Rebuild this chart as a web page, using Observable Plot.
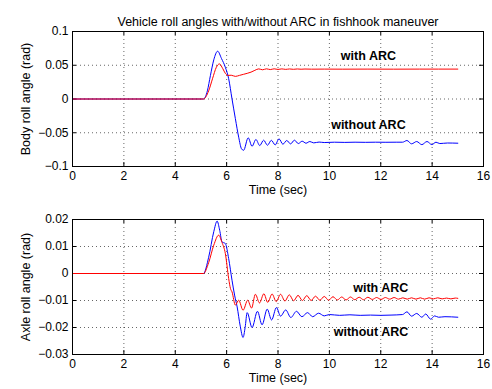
<!DOCTYPE html>
<html><head><meta charset="utf-8">
<script src="https://cdn.jsdelivr.net/npm/d3@7"></script>
<script src="https://cdn.jsdelivr.net/npm/@observablehq/plot@0.6"></script>
<style>
body{margin:0;background:#fff;}
#wrap{position:relative;width:492px;height:389px;font-family:"Liberation Sans",Arial,sans-serif;}
#top,#bot{position:absolute;left:0;}
#top{top:0;}
#bot{top:205px;}
</style></head><body>
<div id="wrap"><div id="top"></div><div id="bot"></div></div>
<script>
// ---- data (time in sec, angle in rad) ----
const xTicks = [0, 2, 4, 6, 8, 10, 12, 14, 16];
const bodyTicks = [-0.1, -0.05, 0, 0.05, 0.1];
const axleTicks = [-0.03, -0.02, -0.01, 0, 0.01, 0.02];

const bodyNoArc = [[0,0],[5.1,0],[5.25,0.012],[5.37,0.035],[5.5,0.058],[5.65,0.0708],[5.8,0.060],[5.95,0.047],[6.08,0.030],[6.21,0],[6.34,-0.029],[6.47,-0.0566],[6.58,-0.0738],[6.66,-0.076],[6.84,-0.0575],[6.99,-0.0700],[7.14,-0.0600],[7.29,-0.0690],[7.44,-0.0610],[7.59,-0.0685],[7.74,-0.0612],[7.89,-0.0680],[8.04,-0.0590],[8.19,-0.0670],[8.34,-0.0615],[8.49,-0.0665],[8.64,-0.0610],[8.79,-0.0660],[8.94,-0.0625],[9.09,-0.0655],[9.24,-0.0630],[9.39,-0.0650],[9.6,-0.0638],[9.8,-0.0645],[10.2,-0.0640],[10.6,-0.0643],[11.0,-0.0640],[11.4,-0.0642],[11.8,-0.0640],[12.2,-0.0641],[12.6,-0.0640],[12.85,-0.0640],[13.02,-0.0615],[13.2,-0.0664],[13.4,-0.0630],[13.6,-0.0676],[13.8,-0.0630],[13.99,-0.0676],[14.15,-0.0640],[14.3,-0.0660],[14.6,-0.0652],[15.0,-0.0655]];

const bodyArc = [[0,0],[5.1,0],[5.3,0.012],[5.45,0.030],[5.6,0.047],[5.72,0.052],[5.85,0.045],[5.95,0.038],[6.05,0.0350],[6.18,0.0352],[6.34,0.0335],[6.5,0.0350],[6.65,0.0365],[6.8,0.0380],[6.95,0.0398],[7.1,0.0425],[7.25,0.0446],[7.4,0.0433],[7.55,0.0447],[7.7,0.0436],[7.85,0.0447],[8.0,0.0438],[8.15,0.0446],[8.3,0.0439],[8.45,0.0445],[8.6,0.0440],[8.75,0.0445],[8.9,0.0441],[9.05,0.0444],[9.3,0.0442],[9.8,0.0443],[10.5,0.0442],[11.5,0.0443],[12.5,0.0442],[13.5,0.0443],[15.0,0.0443]];

const axleNoArc = [[0,0],[5.1,0],[5.3,0.006],[5.5,0.0155],[5.63,0.0194],[5.73,0.016],[5.82,0.0117],[5.95,0.0111],[6.08,0.0055],[6.21,-0.0025],[6.31,-0.0080],[6.41,-0.0124],[6.53,-0.0195],[6.64,-0.0237],[6.72,-0.0200],[6.8,-0.0145],[6.99,-0.0200],[7.2,-0.0140],[7.38,-0.0190],[7.58,-0.0132],[7.75,-0.0172],[7.94,-0.0126],[8.1,-0.0158],[8.3,-0.0135],[8.5,-0.0163],[8.72,-0.0140],[8.93,-0.0160],[9.15,-0.0145],[9.35,-0.0160],[9.58,-0.0147],[9.8,-0.0157],[10.0,-0.0152],[10.4,-0.0155],[10.8,-0.0153],[11.2,-0.0155],[11.6,-0.0154],[12.0,-0.0155],[12.4,-0.0154],[12.85,-0.0152],[13.02,-0.0142],[13.2,-0.0158],[13.4,-0.0148],[13.6,-0.0162],[13.75,-0.0150],[13.94,-0.0169],[14.1,-0.0157],[14.25,-0.0162],[14.5,-0.0160],[15.0,-0.0162]];

const axleArc = [[0,0],[5.1,0],[5.3,0.004],[5.5,0.0105],[5.69,0.0142],[5.82,0.0115],[5.95,0.0074],[6.08,-0.0019],[6.15,-0.0056],[6.21,-0.0068],[6.34,-0.0117],[6.47,-0.0099],[6.64,-0.0136],[6.82,-0.0099],[6.97,-0.0128],[7.12,-0.0077],[7.28,-0.0109],[7.45,-0.0075],[7.6,-0.0107],[7.77,-0.0076],[7.93,-0.0104],[8.1,-0.0077],[8.27,-0.0102],[8.44,-0.0079],[8.61,-0.0101],[8.78,-0.0081],[8.95,-0.0100],[9.12,-0.0082],[9.29,-0.0100],[9.46,-0.0084],[9.63,-0.0099],[9.8,-0.0085],[9.97,-0.0099],[10.14,-0.0086],[10.31,-0.0098],[10.48,-0.0087],[10.65,-0.0098],[10.82,-0.0087],[10.99,-0.0097],[11.16,-0.0088],[11.33,-0.0097],[11.5,-0.0088],[11.67,-0.0096],[11.84,-0.0089],[12.01,-0.0096],[12.18,-0.0089],[12.35,-0.0095],[12.52,-0.0089],[12.69,-0.0095],[12.86,-0.0090],[13.03,-0.0095],[13.2,-0.0090],[13.37,-0.0095],[13.54,-0.0090],[13.71,-0.0095],[13.88,-0.0090],[14.05,-0.0094],[14.22,-0.0090],[14.39,-0.0094],[14.56,-0.0091],[14.73,-0.0094],[14.9,-0.0091],[15.0,-0.0092]];

const toRows = a => a.map(([t, v]) => ({t, v}));

function panel({noArc, arc, yDomain, yTicks, yLabel, height, marginTop, marginBottom, title, labels}) {
  const W = 492, mL = 72, mR = 9;
  const pw = W - mL - mR, ph = height - marginTop - marginBottom;
  const dotted = {stroke: "#000", strokeOpacity: 0.6, strokeDasharray: "1,3", strokeWidth: 1};
  const marks = [
    Plot.ruleX(xTicks.slice(1, -1), dotted),
    Plot.ruleY(yTicks.slice(1, -1), dotted),
    Plot.ruleX(xTicks, {stroke: "#000", insetBottom: ph - 4}),
    Plot.ruleX(xTicks, {stroke: "#000", insetTop: ph - 4}),
    Plot.ruleY(yTicks, {stroke: "#000", insetRight: pw - 4}),
    Plot.ruleY(yTicks, {stroke: "#000", insetLeft: pw - 4}),
    Plot.line(toRows(noArc), {x: "t", y: "v", stroke: "#0000ff", strokeWidth: 1, curve: "monotone-x"}),
    Plot.line(toRows(arc), {x: "t", y: "v", stroke: "#ff0000", strokeWidth: 1, curve: "monotone-x"}),
    Plot.frame({stroke: "#000", strokeWidth: 1}),
    Plot.axisX(xTicks, {tickSize: 0, tickPadding: 5, label: null, fontSize: 12}),
    Plot.axisY(yTicks, {tickSize: 0, tickPadding: 4, label: null, fontSize: 12, tickFormat: d => d === 0 ? "0" : d3.format("")(d).replace("-", "\u2212")}),
    Plot.text(["Time (sec)"], {frameAnchor: "bottom", dy: 27, text: d => d, fontSize: 12.5, fill: "#000"}),
    Plot.text([yLabel], {frameAnchor: "left", textAnchor: "middle", dx: -47, rotate: -90, text: d => d, fontSize: 12.5, fill: "#000"}),
    Plot.text(labels, {x: "x", y: "y", text: "text", fontWeight: "bold", fontSize: 12.5, fill: "#000"})
  ];
  if (title) marks.push(Plot.text([title], {frameAnchor: "top", dy: -14, text: d => d, fontSize: 12.5, fill: "#000"}));
  return Plot.plot({
    width: W, height, marginLeft: mL, marginRight: mR, marginTop, marginBottom,
    style: {fontFamily: "'Liberation Sans', Arial, sans-serif", fontSize: "12px", background: "white", color: "#000", overflow: "visible"},
    x: {domain: [0, 16], axis: null},
    y: {domain: yDomain, axis: null},
    marks
  });
}

document.getElementById("top").append(panel({
  noArc: bodyNoArc, arc: bodyArc, yDomain: [-0.1, 0.1], yTicks: bodyTicks,
  yLabel: "Body roll angle (rad)", height: 205, marginTop: 31, marginBottom: 39,
  title: "Vehicle roll angles with/without ARC in fishhook maneuver",
  labels: [{x: 11.52, y: 0.0644, text: "with ARC"}, {x: 11.52, y: -0.0378, text: "without ARC"}]
}));
document.getElementById("bot").append(panel({
  noArc: axleNoArc, arc: axleArc, yDomain: [-0.03, 0.02], yTicks: axleTicks,
  yLabel: "Axle roll angle (rad)", height: 184, marginTop: 14, marginBottom: 35,
  title: null,
  labels: [{x: 12.0, y: -0.0053, text: "with ARC"}, {x: 11.62, y: -0.0216, text: "without ARC"}]
}));
</script>
</body></html>
